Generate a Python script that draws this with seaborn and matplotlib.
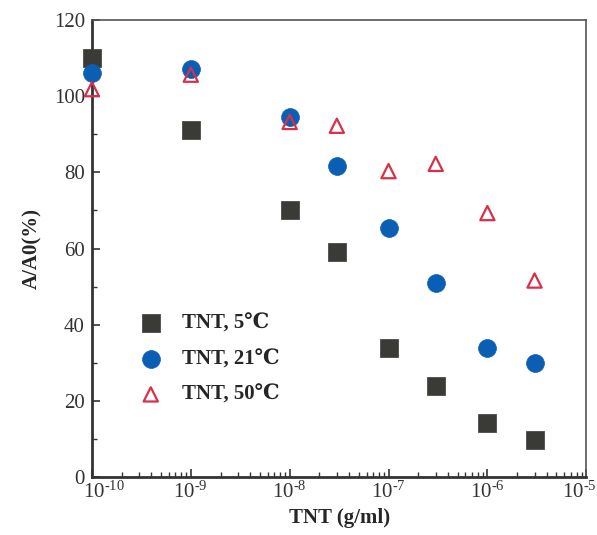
import numpy as np
import pandas as pd
import matplotlib
matplotlib.use("Agg")
import matplotlib.pyplot as plt
import matplotlib.transforms as mtrans
import seaborn as sns
from matplotlib.ticker import FixedLocator, MultipleLocator, FuncFormatter

conc = [1e-10, 1e-9, 1e-8, 3e-8, 1e-7, 3e-7, 1e-6, 3e-6]
t5 = [110, 91, 70, 59, 34, 24, 14.3, 9.7]
t21 = [106, 107, 94.5, 81.7, 65.5, 51, 34, 30]
t50 = [101.8, 105.6, 93.2, 92.2, 80.3, 82.2, 69.3, 51.6]
labels = ["TNT, 5\u2103", "TNT, 21\u2103", "TNT, 50\u2103"]
decades = [-10, -9, -8, -7, -6, -5]

df = pd.DataFrame({
    "conc": conc * 3,
    "val": t5 + t21 + t50,
    "series": [labels[0]] * 8 + [labels[1]] * 8 + [labels[2]] * 8,
})

sns.set_style("white")
plt.rcParams['font.family'] = ['Liberation Serif', 'DejaVu Serif', 'DejaVu Sans']
plt.rcParams['axes.unicode_minus'] = False
plt.rcParams['mathtext.fontset'] = 'custom'
plt.rcParams['mathtext.rm'] = 'Liberation Serif'

fig = plt.figure(figsize=(5.97, 5.35), dpi=100)
ax = fig.add_axes([0.154, 0.108, 0.828, 0.855])

styles = {
    labels[0]: dict(marker="s", s=150, color="#3a3a36"),
    labels[1]: dict(marker="o", s=165, color="#0a5fb4"),
}
for lab in labels[:2]:
    sub = df[df.series == lab]
    st = styles[lab]
    sns.scatterplot(data=sub, x="conc", y="val", ax=ax, marker=st["marker"], s=st["s"],
                    color=st["color"], edgecolor=st["color"], linewidth=0.5,
                    label=lab, zorder=3, clip_on=False)
sub = df[df.series == labels[2]]
ax.scatter(sub.conc, sub.val, marker="^", s=105, facecolors="none",
           edgecolors="#d9304a", linewidths=1.6, label=labels[2], zorder=3, clip_on=False)

ax.set_xscale("log")
ax.set_xlim(1e-10, 1e-5)
ax.set_ylim(0, 120)
major = [10.0 ** d for d in decades]
minor = [m * 10.0 ** d for d in decades[:-1] for m in range(2, 10)]
ax.xaxis.set_major_locator(FixedLocator(major))
ax.xaxis.set_minor_locator(FixedLocator(minor))
ax.xaxis.set_major_formatter(FuncFormatter(
    lambda v, p: "$\\mathregular{10^{\u2010%d}}$" % int(round(-np.log10(v)))))
ax.yaxis.set_major_locator(MultipleLocator(20))
ax.yaxis.set_minor_locator(MultipleLocator(10))

ax.tick_params(axis="both", which="major", direction="in", length=6, width=1.2,
               labelsize=15, colors="#333333", labelcolor="#333333", top=False, right=False,
               bottom=True, left=True)
ax.tick_params(axis="both", which="minor", direction="in", length=3.5, width=1.0,
               colors="#333333", top=False, right=False, bottom=True, left=True)
ax.tick_params(axis="x", which="major", pad=3)
ax.tick_params(axis="y", which="major", pad=5)

for side in ["left", "bottom"]:
    ax.spines[side].set_linewidth(2.0)
    ax.spines[side].set_color("#333333")
for side in ["top", "right"]:
    ax.spines[side].set_linewidth(1.2)
    ax.spines[side].set_color("#555555")

fig.canvas.draw()
for t in ax.get_xticklabels():
    txt = t.get_text()
    if txt.endswith("10}}$"):
        t.set_transform(t.get_transform() + mtrans.ScaledTranslation(9 / 72, 0, fig.dpi_scale_trans))
    elif txt.endswith("5}}$"):
        t.set_transform(t.get_transform() + mtrans.ScaledTranslation(-5 / 72, 0, fig.dpi_scale_trans))

ax.set_xlabel("TNT (g/ml)", fontsize=15, fontweight="bold", labelpad=4)
ax.set_ylabel("A/A0(%)", fontsize=15, fontweight="bold", labelpad=8)

leg = ax.legend(loc="lower left", bbox_to_anchor=(0.06, 0.14), frameon=False,
                prop=dict(family=['Liberation Serif', 'DejaVu Serif', 'DejaVu Sans'], weight="bold", size=15),
                handletextpad=0.5, labelspacing=0.75, borderaxespad=0)

fig.savefig("out.png", dpi=100)
